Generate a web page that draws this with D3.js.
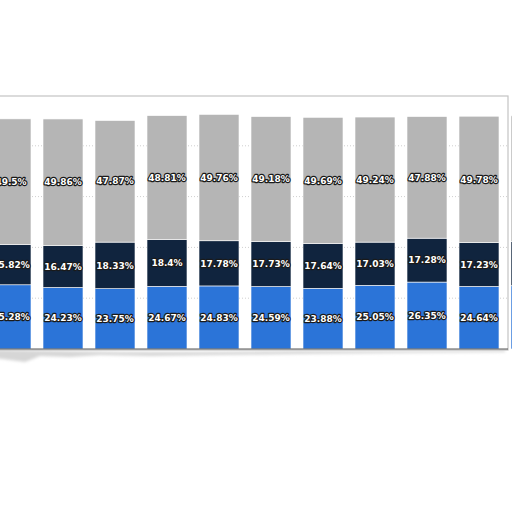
<!DOCTYPE html>
<html>
<head>
<meta charset="utf-8">
<script src="https://cdn.jsdelivr.net/npm/d3@7"></script>
<style>
  html, body { margin: 0; padding: 0; background: #fff; }
  svg { display: block; }
</style>
</head>
<body>
<svg id="chart" width="512" height="512"></svg>
<script>
// values (per cent), bottom to top
const categories = ["C1", "C2", "C3", "C4", "C5", "C6", "C7", "C8", "C9", "C10", "C11"];
const blueVals = [25.28, 24.23, 23.75, 24.67, 24.83, 24.59, 23.88, 25.05, 26.35, 24.64, 24.9];
const navyVals = [15.82, 16.47, 18.33, 18.4, 17.78, 17.73, 17.64, 17.03, 17.28, 17.23, 17.5];
const greyVals = [49.5, 49.86, 47.87, 48.81, 49.76, 49.18, 49.69, 49.24, 47.88, 49.78, 49.4];
const yTicks = [20, 40, 60, 80];

const keys = ["blue", "navy", "grey"];
const colors = { blue: "#2b74d8", navy: "#10243e", grey: "#b5b5b5" };

const data = categories.map((c, i) => ({
  cat: c, blue: blueVals[i], navy: navyVals[i], grey: greyVals[i]
}));

const svg = d3.select("#chart");

const x = d3.scaleBand()
  .domain(categories)
  .range([-15, 557])
  .paddingInner(0.2308)
  .paddingOuter(0.1154);

const y = d3.scaleLinear()
  .domain([0, 100])
  .range([349, 95]);

const defs = svg.append("defs");
const blur = defs.append("filter").attr("id", "shadow")
  .attr("x", "-10%").attr("y", "-50%").attr("width", "120%").attr("height", "200%");
blur.append("feGaussianBlur").attr("stdDeviation", 1.5);

// ragged paper shadow under the card
svg.append("path")
  .attr("d", "M-5,350 L60,351 L120,352 L200,352 L300,351 L400,351 L505,350 L505,352 L400,353 L300,354 L220,355 L150,356 L100,355 L70,357 L40,356 L25,362 L10,360 L-5,358 Z")
  .attr("fill", "#d6d6d6")
  .attr("filter", "url(#shadow)");

// card
svg.append("rect")
  .attr("x", -10).attr("y", 96)
  .attr("width", 518).attr("height", 254)
  .attr("fill", "#fff")
  .attr("stroke", "#c4c4c4")
  .attr("stroke-width", 1.2);

// dotted gridlines
svg.append("g")
  .selectAll("line")
  .data(yTicks)
  .join("line")
  .attr("x1", -10).attr("x2", 508)
  .attr("y1", d => y(d)).attr("y2", d => y(d))
  .attr("stroke", "#cfcfcf")
  .attr("stroke-dasharray", "1,2");

const series = d3.stack().keys(keys)(data);

const g = svg.append("g");

g.selectAll(".serie")
  .data(series)
  .join("g")
  .attr("fill", d => colors[d.key])
  .selectAll("rect")
  .data(d => d)
  .join("rect")
  .attr("x", d => x(d.data.cat))
  .attr("y", d => y(d[1]))
  .attr("width", x.bandwidth())
  .attr("height", d => y(d[0]) - y(d[1]))
  .attr("stroke", "#fff")
  .attr("stroke-width", 0.6);

// segment labels
const labels = svg.append("g")
  .attr("font-family", "DejaVu Sans, Verdana, sans-serif")
  .attr("font-weight", "bold")
  .attr("font-size", 9)
  .attr("text-anchor", "middle");

series.forEach(s => {
  labels.selectAll(null)
    .data(s)
    .join("text")
    .attr("x", d => x(d.data.cat) + x.bandwidth() / 2)
    .attr("y", d => (y(d[0]) + y(d[1])) / 2)
    .attr("dy", "0.35em")
    .attr("fill", "#fff")
    .attr("stroke", "#1a1a1a")
    .attr("stroke-width", 2.4)
    .attr("stroke-linejoin", "round")
    .attr("paint-order", "stroke")
    .text(d => d.data[s.key] + "%");
});

// baseline
svg.append("line")
  .attr("x1", -10).attr("x2", 508)
  .attr("y1", y(0)).attr("y2", y(0))
  .attr("stroke", "#555")
  .attr("stroke-width", 1);
</script>
</body>
</html>
